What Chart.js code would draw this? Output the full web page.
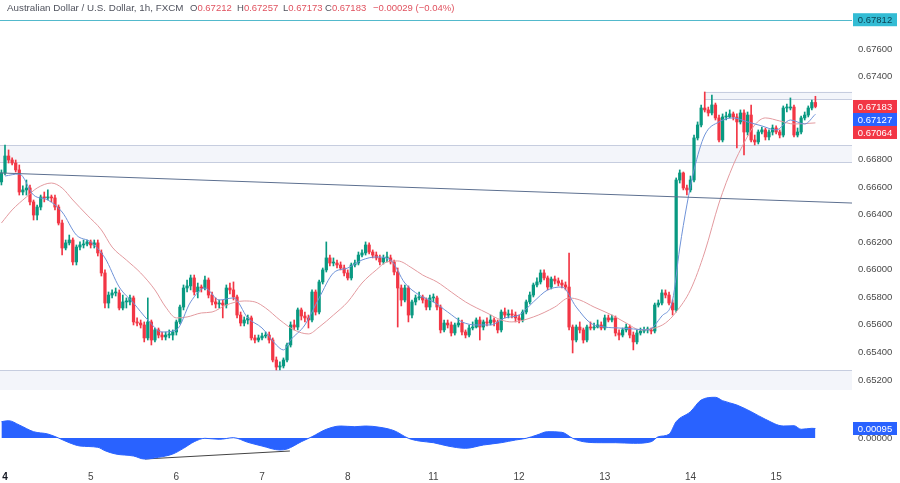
<!DOCTYPE html>
<html>
<head>
<meta charset="utf-8">
<script src="https://cdn.jsdelivr.net/npm/chart.js@4.4.1/dist/chart.umd.min.js"></script>
<style>
html, body { margin: 0; padding: 0; background: #fff; }
#wrap { position: relative; width: 900px; height: 483px; overflow: hidden; font-family: "Liberation Sans", Arial, sans-serif; }
.pane { position: absolute; left: 0; width: 900px; }
#title span { position: absolute; top: 2px; font-size: 9.5px; color: #50535e; white-space: nowrap; }
#title span.name { font-size: 9.8px; }
#title .v { position: static; color: #e0525f; }
</style>
</head>
<body>
<div id="wrap">
  <div class="pane" style="top:0;height:390px"><canvas id="priceChart"></canvas></div>
  <div class="pane" style="top:390px;height:93px"><canvas id="oscChart"></canvas></div>
  <div id="title">
    <span class="name" style="left:7px">Australian Dollar / U.S. Dollar, 1h, FXCM</span>
    <span style="left:190px">O<span class="v">0.67212</span></span>
    <span style="left:237px">H<span class="v">0.67257</span></span>
    <span style="left:283px">L<span class="v">0.67173</span></span>
    <span style="left:325px">C<span class="v">0.67183</span></span>
    <span style="left:373px"><span class="v">−0.00029 (−0.04%)</span></span>
  </div>
</div>
<script>
// hourly candles, index 0 = first hour of day "4"
const firstHour = -1;
const dayTicks = [0, 24, 48, 72, 96, 120, 144, 168, 192, 216];
const dayLabels = ['4', '5', '6', '7', '8', '11', '12', '13', '14', '15'];
const priceTicks = [0.652, 0.654, 0.656, 0.658, 0.660, 0.662, 0.664, 0.666, 0.668, 0.670, 0.672, 0.674, 0.676, 0.678];
const oscTicks = [0];

const opens = [0.66636,
  0.66701,0.66824,0.66795,0.66773,0.66723,0.66563,0.66578,0.66592,0.66491,0.66396,
  0.66454,0.66527,0.66520,0.66527,0.66520,0.66454,0.66338,0.66157,0.66194,0.66215,
  0.66056,0.66164,0.66179,0.66186,0.66201,0.66179,0.66194,0.66121,0.65976,0.65758,
  0.65816,0.65831,0.65831,0.65722,0.65766,0.65766,0.65795,0.65621,0.65613,0.65599,
  0.65505,0.65621,0.65490,0.65563,0.65526,0.65512,0.65526,0.65526,0.65548,0.65621,
  0.65729,0.65867,0.65882,0.65940,0.65838,0.65874,0.65867,0.65925,0.65816,0.65766,
  0.65751,0.65758,0.65744,0.65867,0.65853,0.65802,0.65671,0.65613,0.65635,0.65650,
  0.65505,0.65490,0.65505,0.65519,0.65526,0.65490,0.65345,0.65294,0.65302,0.65345,
  0.65454,0.65599,0.65584,0.65708,0.65664,0.65650,0.65635,0.65838,0.65693,0.65911,
  0.65998,0.66085,0.66048,0.66048,0.66034,0.66012,0.65976,0.65940,0.66034,0.66048,
  0.66106,0.66121,0.66179,0.66128,0.66106,0.66085,0.66056,0.66085,0.66085,0.66056,
  0.65983,0.65867,0.65780,0.65867,0.65671,0.65766,0.65795,0.65802,0.65780,0.65729,
  0.65795,0.65795,0.65729,0.65563,0.65613,0.65599,0.65541,0.65599,0.65613,0.65548,
  0.65526,0.65577,0.65584,0.65635,0.65584,0.65621,0.65613,0.65635,0.65621,0.65563,
  0.65693,0.65671,0.65679,0.65671,0.65650,0.65635,0.65693,0.65766,0.65816,0.65889,
  0.65911,0.65976,0.65940,0.65874,0.65932,0.65918,0.65903,0.65889,0.65874,0.65584,
  0.65490,0.65584,0.65563,0.65490,0.65584,0.65577,0.65584,0.65599,0.65577,0.65650,
  0.65635,0.65650,0.65541,0.65526,0.65563,0.65584,0.65526,0.65476,0.65541,0.65555,
  0.65563,0.65563,0.65555,0.65744,0.65758,0.65831,0.65816,0.65758,0.65708,0.66650,
  0.66701,0.66592,0.66578,0.66650,0.66955,0.67049,0.67172,0.67158,0.67136,0.67194,
  0.67100,0.66940,0.67107,0.67107,0.67129,0.67107,0.67071,0.67136,0.66998,0.67121,
  0.66940,0.66926,0.66998,0.67013,0.66962,0.66998,0.67027,0.66998,0.66976,0.67172,
  0.67172,0.67179,0.66976,0.66998,0.67100,0.67121,0.67172,0.67212];

const highs = [0.66723,
  0.66904,0.66868,0.66810,0.66795,0.66759,0.66607,0.66650,0.66614,0.66505,0.66469,
  0.66541,0.66563,0.66578,0.66541,0.66541,0.66469,0.66360,0.66215,0.66251,0.66230,
  0.66179,0.66201,0.66215,0.66215,0.66215,0.66215,0.66215,0.66143,0.65998,0.65838,
  0.65853,0.65867,0.65853,0.65816,0.65795,0.65816,0.65809,0.65650,0.65635,0.65621,
  0.65795,0.65635,0.65577,0.65577,0.65548,0.65548,0.65563,0.65563,0.65635,0.65744,
  0.65889,0.65925,0.65961,0.65961,0.65903,0.65889,0.65954,0.65940,0.65838,0.65795,
  0.65780,0.65780,0.65889,0.65903,0.65911,0.65816,0.65693,0.65657,0.65671,0.65664,
  0.65526,0.65526,0.65541,0.65548,0.65548,0.65505,0.65367,0.65331,0.65360,0.65468,
  0.65621,0.65635,0.65722,0.65722,0.65693,0.65671,0.65853,0.65853,0.65925,0.66012,
  0.66201,0.66106,0.66085,0.66070,0.66056,0.66034,0.65998,0.66048,0.66070,0.66128,
  0.66143,0.66201,0.66194,0.66143,0.66128,0.66106,0.66106,0.66128,0.66106,0.66070,
  0.66012,0.65889,0.65889,0.65882,0.65780,0.65816,0.65838,0.65816,0.65795,0.65816,
  0.65824,0.65809,0.65744,0.65635,0.65635,0.65621,0.65613,0.65650,0.65635,0.65563,
  0.65599,0.65621,0.65650,0.65657,0.65635,0.65650,0.65671,0.65650,0.65635,0.65708,
  0.65722,0.65708,0.65708,0.65693,0.65671,0.65708,0.65780,0.65838,0.65903,0.65940,
  0.65998,0.65998,0.65954,0.65947,0.65954,0.65940,0.65925,0.65911,0.66121,0.65599,
  0.65599,0.65621,0.65577,0.65599,0.65621,0.65613,0.65635,0.65621,0.65671,0.65671,
  0.65671,0.65664,0.65563,0.65577,0.65606,0.65599,0.65548,0.65563,0.65577,0.65584,
  0.65584,0.65577,0.65758,0.65780,0.65853,0.65853,0.65838,0.65780,0.66665,0.66723,
  0.66708,0.66614,0.66679,0.66976,0.67071,0.67194,0.67288,0.67179,0.67266,0.67208,
  0.67121,0.67129,0.67143,0.67158,0.67143,0.67129,0.67158,0.67158,0.67143,0.67194,
  0.66976,0.67013,0.67034,0.67027,0.67013,0.67049,0.67042,0.67013,0.67187,0.67201,
  0.67245,0.67194,0.67027,0.67114,0.67143,0.67187,0.67230,0.67257];

const lows = [0.66614,
  0.66686,0.66773,0.66759,0.66708,0.66541,0.66541,0.66541,0.66469,0.66360,0.66360,
  0.66433,0.66491,0.66505,0.66491,0.66433,0.66324,0.66106,0.66143,0.66179,0.66034,
  0.66034,0.66143,0.66157,0.66172,0.66157,0.66157,0.66099,0.65954,0.65722,0.65722,
  0.65795,0.65809,0.65708,0.65708,0.65722,0.65744,0.65599,0.65592,0.65577,0.65476,
  0.65490,0.65454,0.65476,0.65505,0.65490,0.65490,0.65505,0.65490,0.65526,0.65606,
  0.65708,0.65838,0.65853,0.65816,0.65795,0.65838,0.65853,0.65795,0.65744,0.65722,
  0.65722,0.65650,0.65722,0.65824,0.65780,0.65650,0.65592,0.65592,0.65606,0.65490,
  0.65468,0.65476,0.65490,0.65505,0.65468,0.65331,0.65273,0.65273,0.65287,0.65331,
  0.65439,0.65563,0.65563,0.65635,0.65621,0.65577,0.65621,0.65671,0.65679,0.65896,
  0.65983,0.66027,0.66027,0.66012,0.65998,0.65954,0.65925,0.65925,0.66019,0.66034,
  0.66092,0.66106,0.66114,0.66085,0.66070,0.66034,0.66041,0.66056,0.66041,0.65961,
  0.65584,0.65737,0.65766,0.65621,0.65650,0.65744,0.65780,0.65758,0.65708,0.65708,
  0.65766,0.65708,0.65541,0.65548,0.65577,0.65519,0.65526,0.65584,0.65526,0.65505,
  0.65512,0.65563,0.65577,0.65490,0.65563,0.65592,0.65599,0.65592,0.65541,0.65548,
  0.65650,0.65650,0.65650,0.65621,0.65613,0.65621,0.65679,0.65751,0.65802,0.65874,
  0.65896,0.65925,0.65853,0.65860,0.65896,0.65882,0.65867,0.65853,0.65563,0.65396,
  0.65476,0.65541,0.65468,0.65476,0.65563,0.65563,0.65577,0.65563,0.65563,0.65621,
  0.65621,0.65519,0.65490,0.65512,0.65548,0.65505,0.65418,0.65461,0.65526,0.65541,
  0.65541,0.65534,0.65541,0.65729,0.65744,0.65795,0.65744,0.65671,0.65693,0.66628,
  0.66578,0.66541,0.66563,0.66636,0.66940,0.67034,0.67143,0.67114,0.67121,0.67085,
  0.66926,0.66926,0.67085,0.67100,0.67085,0.66882,0.67056,0.66831,0.66976,0.66926,
  0.66904,0.66911,0.66984,0.66940,0.66940,0.66976,0.66984,0.66955,0.66962,0.67143,
  0.67158,0.66962,0.66962,0.66984,0.67085,0.67107,0.67158,0.67173];

const closes = [0.66701,
  0.66824,0.66795,0.66773,0.66723,0.66563,0.66578,0.66592,0.66491,0.66396,0.66454,
  0.66527,0.66520,0.66527,0.66520,0.66454,0.66338,0.66157,0.66194,0.66215,0.66056,
  0.66164,0.66179,0.66186,0.66201,0.66179,0.66194,0.66121,0.65976,0.65758,0.65816,
  0.65831,0.65831,0.65722,0.65766,0.65766,0.65795,0.65621,0.65613,0.65599,0.65505,
  0.65621,0.65490,0.65563,0.65526,0.65512,0.65526,0.65526,0.65548,0.65621,0.65729,
  0.65867,0.65882,0.65940,0.65838,0.65874,0.65867,0.65925,0.65816,0.65766,0.65751,
  0.65758,0.65744,0.65867,0.65853,0.65802,0.65671,0.65613,0.65635,0.65650,0.65505,
  0.65490,0.65505,0.65519,0.65526,0.65490,0.65345,0.65294,0.65302,0.65345,0.65454,
  0.65599,0.65584,0.65708,0.65664,0.65650,0.65635,0.65838,0.65693,0.65911,0.65998,
  0.66085,0.66048,0.66048,0.66034,0.66012,0.65976,0.65940,0.66034,0.66048,0.66106,
  0.66121,0.66179,0.66128,0.66106,0.66085,0.66056,0.66085,0.66085,0.66056,0.65983,
  0.65867,0.65780,0.65867,0.65671,0.65766,0.65795,0.65802,0.65780,0.65729,0.65795,
  0.65795,0.65729,0.65563,0.65613,0.65599,0.65541,0.65599,0.65613,0.65548,0.65526,
  0.65577,0.65584,0.65635,0.65584,0.65621,0.65613,0.65635,0.65621,0.65563,0.65693,
  0.65671,0.65679,0.65671,0.65650,0.65635,0.65693,0.65766,0.65816,0.65889,0.65911,
  0.65976,0.65940,0.65874,0.65932,0.65918,0.65903,0.65889,0.65874,0.65584,0.65490,
  0.65584,0.65563,0.65490,0.65584,0.65577,0.65584,0.65599,0.65577,0.65650,0.65635,
  0.65650,0.65541,0.65526,0.65563,0.65584,0.65526,0.65476,0.65541,0.65555,0.65563,
  0.65563,0.65555,0.65744,0.65758,0.65831,0.65816,0.65758,0.65708,0.66650,0.66701,
  0.66592,0.66578,0.66650,0.66955,0.67049,0.67172,0.67158,0.67136,0.67194,0.67100,
  0.66940,0.67107,0.67107,0.67129,0.67107,0.67071,0.67136,0.66998,0.67121,0.66940,
  0.66926,0.66998,0.67013,0.66962,0.66998,0.67027,0.66998,0.66976,0.67172,0.67172,
  0.67179,0.66976,0.66998,0.67100,0.67121,0.67172,0.67212,0.67183];

// fast (blue) and slow (red) moving averages, read at sample hours
const fastHours = [0,4,8,12,16,20,24,28,32,36,40,44,48,52,56,60,64,68,72,76,78,80,84,88,92,96,100,104,108,112,116,120,124,128,132,136,140,144,148,152,156,160,164,168,172,176,180,184,187,189,191,193,196,200,204,208,212,216,220,224,227];
const fastMA = [0.66679,0.66694,0.66541,0.66505,0.66418,0.66251,0.66201,0.66085,0.65874,0.65758,0.65635,0.65548,0.65563,0.65766,0.65867,0.65780,0.65795,0.65650,0.65577,0.65454,0.65418,0.65490,0.65599,0.65795,0.65976,0.66012,0.66070,0.66092,0.66070,0.65903,0.65816,0.65766,0.65693,0.65621,0.65599,0.65599,0.65650,0.65671,0.65766,0.65853,0.65874,0.65729,0.65613,0.65584,0.65577,0.65570,0.65563,0.65664,0.65780,0.66157,0.66469,0.66723,0.66976,0.67071,0.67100,0.67071,0.67042,0.67013,0.67085,0.67056,0.67127];
const slowHours = [-1,2,6,9,13,16,19,23,27,30,34,38,42,45,48,51,55,58,62,67,70,73,77,81,85,88,92,96,100,104,107,110,114,117,121,125,129,135,139,142,148,154,158,161,165,170,174,178,182,185,188,192,196,200,204,207,210,213,217,221,227];
const slowMA = [0.66338,0.66433,0.66527,0.66592,0.66628,0.66592,0.66505,0.66396,0.66288,0.66164,0.66070,0.65976,0.65853,0.65729,0.65650,0.65657,0.65686,0.65693,0.65744,0.65773,0.65766,0.65722,0.65635,0.65563,0.65534,0.65584,0.65671,0.65766,0.65903,0.65998,0.66056,0.66063,0.66012,0.65961,0.65911,0.65838,0.65766,0.65686,0.65635,0.65621,0.65657,0.65729,0.65795,0.65780,0.65729,0.65671,0.65613,0.65563,0.65577,0.65613,0.65693,0.65853,0.66128,0.66483,0.66759,0.66918,0.67049,0.67100,0.67078,0.67056,0.67064];

// lower oscillator
const oscHours = [-1,1,4,8,12,15,18,21,26,28,31,36,39,43,47,50,53,56,60,64,68,72,77,79,83,86,90,94,98,101,105,109,113,116,120,124,129,134,139,143,146,149,152,156,159,162,167,171,176,181,183,186,188,192,195,199,201,205,209,213,218,221,223,226,227];
const oscValues = [0.00163,0.00173,0.0013,0.00063,0.0004,0,-0.00047,-0.0008,-0.00093,-0.00127,-0.0016,-0.0018,-0.0021,-0.00193,-0.0016,-0.00103,-0.00037,-0.00003,-0.00013,0.00003,-0.00043,-0.0008,-0.0012,-0.0011,-0.00037,0.00013,0.00087,0.0012,0.00113,0.0012,0.00107,0.00073,-0.00003,-0.0003,-0.00047,-0.0008,-0.00103,-0.0007,-0.00047,-0.0002,-0.00003,0.0003,0.00063,0.00057,-0.00003,-0.00037,-0.00047,-0.00047,-0.00053,-0.00037,0.00013,0.00037,0.00163,0.00263,0.0038,0.00407,0.00373,0.0033,0.00263,0.00187,0.0012,0.00123,0.00087,0.00097,0.00095];
const oscTrend = [[39.2, -0.0021], [79.8, -0.0013]];

// drawn levels
const supportBand = [0.66904, 0.66781];
const topBand = [0.67290, 0.67235];
const topBandFrom = 196;
const floorLevel = 0.65273;
const highLevel = 0.67812;
const trendLine = [[-1.4, 0.66701], [237.25, 0.66483]];

const X_MIN = -1.4, X_MAX = 237.25;
const UP = '#089981', DOWN = '#f23645';
const FONT = '"Liberation Sans", Arial, sans-serif';

const hours = closes.map((c, k) => firstHour + k);
const candleColors = closes.map((c, k) => c >= opens[k] ? UP : DOWN);

// axis labels must not shrink the plot area
const noPad = s => { s.paddingTop = 0; s.paddingBottom = 0; s.paddingLeft = 0; s.paddingRight = 0; };

const levelsPlugin = {
  id: 'levels',
  beforeDatasetsDraw(chart) {
    const { ctx, chartArea: a, scales: { x, y } } = chart;
    ctx.save();
    ctx.beginPath(); ctx.rect(a.left, a.top, a.right - a.left, a.bottom - a.top); ctx.clip();
    const band = (x0, hi, lo) => {
      const y0 = y.getPixelForValue(hi), y1 = y.getPixelForValue(lo);
      ctx.fillStyle = '#f3f5fa';
      ctx.fillRect(x0, y0, a.right - x0, y1 - y0);
      ctx.strokeStyle = '#c6cddf'; ctx.lineWidth = 1;
      ctx.beginPath();
      ctx.moveTo(x0, Math.round(y0) + 0.5); ctx.lineTo(a.right, Math.round(y0) + 0.5);
      if (y1 < a.bottom - 1) { ctx.moveTo(x0, Math.round(y1) + 0.5); ctx.lineTo(a.right, Math.round(y1) + 0.5); }
      ctx.stroke();
    };
    band(a.left, supportBand[0], supportBand[1]);
    band(x.getPixelForValue(topBandFrom), topBand[0], topBand[1]);
    band(a.left, floorLevel, y.min);
    ctx.restore();
  },
  afterDatasetsDraw(chart) {
    const { ctx, chartArea: a, scales: { x, y } } = chart;
    ctx.save();
    ctx.lineWidth = 1;
    ctx.strokeStyle = '#52b9cc';
    const hy = Math.round(y.getPixelForValue(highLevel)) + 0.5;
    ctx.beginPath(); ctx.moveTo(a.left, hy); ctx.lineTo(a.right, hy); ctx.stroke();
    ctx.strokeStyle = '#5d7090';
    ctx.beginPath();
    ctx.moveTo(x.getPixelForValue(trendLine[0][0]), y.getPixelForValue(trendLine[0][1]));
    ctx.lineTo(x.getPixelForValue(trendLine[1][0]), y.getPixelForValue(trendLine[1][1]));
    ctx.stroke();
    ctx.restore();
  },
  afterDraw(chart) {
    const { ctx, chartArea: a, scales: { y } } = chart;
    const tags = [
      { v: closes[closes.length - 1], bg: DOWN, fg: '#fff' },
      { v: fastMA[fastMA.length - 1], bg: '#2962ff', fg: '#fff' },
      { v: slowMA[slowMA.length - 1], bg: DOWN, fg: '#fff' }
    ];
    ctx.save();
    ctx.font = '9.5px ' + FONT;
    ctx.textAlign = 'center'; ctx.textBaseline = 'middle';
    const draw = (cy, t) => {
      ctx.fillStyle = t.bg;
      ctx.fillRect(a.right + 1, cy - 6.5, 44, 13);
      ctx.fillStyle = t.fg;
      ctx.fillText(t.v.toFixed(5), a.right + 23, cy + 0.5);
    };
    draw(y.getPixelForValue(highLevel), { v: highLevel, bg: '#33bcd4', fg: '#0d4456' });
    let prev = -1e9;
    tags.forEach(t => {
      const cy = Math.max(y.getPixelForValue(t.v), prev + 13);
      draw(cy, t);
      prev = cy;
    });
    ctx.restore();
  }
};

new Chart(document.getElementById('priceChart'), {
  type: 'bar',
  data: {
    datasets: [
      { type: 'line', data: fastHours.map((h, k) => ({ x: h, y: fastMA[k] })), borderColor: '#6f93d8', borderWidth: 1, pointRadius: 0, cubicInterpolationMode: 'monotone', order: 0 },
      { type: 'line', data: slowHours.map((h, k) => ({ x: h, y: slowMA[k] })), borderColor: '#e39a9f', borderWidth: 1, pointRadius: 0, cubicInterpolationMode: 'monotone', order: 0 },
      { data: hours.map((h, k) => ({ x: h, y: [opens[k], closes[k]] })), backgroundColor: candleColors, barThickness: 2.6, minBarLength: 1, grouped: false, order: 1 },
      { data: hours.map((h, k) => ({ x: h, y: [lows[k], highs[k]] })), backgroundColor: candleColors, barThickness: 1, grouped: false, order: 2 }
    ]
  },
  options: {
    animation: false,
    responsive: true,
    maintainAspectRatio: false,
    layout: { padding: 0, autoPadding: false },
    plugins: { legend: { display: false }, tooltip: { enabled: false } },
    scales: {
      x: { type: 'linear', min: X_MIN, max: X_MAX, offset: false, display: false },
      y: {
        position: 'right', min: 0.651275, max: 0.67955,
        grid: { display: false, drawTicks: false }, border: { display: false },
        afterFit: s => { s.width = 48; noPad(s); },
        afterBuildTicks: s => { s.ticks = priceTicks.map(v => ({ value: v })); },
        ticks: { padding: 6, color: '#4a4a4a', font: { size: 9.5, family: FONT }, callback: v => v.toFixed(5) }
      }
    }
  },
  plugins: [levelsPlugin]
});

const oscTagPlugin = {
  id: 'oscTag',
  afterDraw(chart) {
    const { ctx, chartArea: a, scales: { y } } = chart;
    const v = oscValues[oscValues.length - 1];
    const cy = y.getPixelForValue(v);
    ctx.save();
    ctx.fillStyle = '#2962ff';
    ctx.fillRect(a.right + 1, cy - 6.5, 44, 13);
    ctx.fillStyle = '#fff';
    ctx.font = '9.5px ' + FONT;
    ctx.textAlign = 'center'; ctx.textBaseline = 'middle';
    ctx.fillText(v.toFixed(5), a.right + 23, cy + 0.5);
    ctx.restore();
  }
};

new Chart(document.getElementById('oscChart'), {
  type: 'line',
  data: {
    datasets: [
      { data: oscHours.map((h, k) => ({ x: h, y: oscValues[k] })), borderColor: '#2962ff', backgroundColor: '#2962ff', fill: 'origin', borderWidth: 1, pointRadius: 0, cubicInterpolationMode: 'monotone' },
      { data: oscTrend.map(p => ({ x: p[0], y: p[1] })), borderColor: '#444', borderWidth: 1, pointRadius: 0, fill: false }
    ]
  },
  options: {
    animation: false,
    responsive: true,
    maintainAspectRatio: false,
    layout: { padding: 0, autoPadding: false },
    plugins: { legend: { display: false }, tooltip: { enabled: false } },
    scales: {
      x: {
        type: 'linear', min: X_MIN, max: X_MAX,
        grid: { display: false, drawTicks: false }, border: { display: false },
        afterFit: s => { s.height = 21; noPad(s); },
        afterBuildTicks: s => { s.ticks = dayTicks.map(v => ({ value: v })); },
        ticks: {
          autoSkip: false, maxRotation: 0, padding: 9,
          color: c => c.index === 0 ? '#131722' : '#444',
          font: c => ({ size: 10, family: FONT, weight: c.index === 0 ? 'bold' : 'normal' }),
          callback: (v, k) => dayLabels[k]
        }
      },
      y: {
        position: 'right', min: -0.0024, max: 0.0048,
        grid: { display: false, drawTicks: false }, border: { display: false },
        afterFit: s => { s.width = 48; noPad(s); },
        afterBuildTicks: s => { s.ticks = oscTicks.map(v => ({ value: v })); },
        ticks: { padding: 6, color: '#4a4a4a', font: { size: 9.5, family: FONT }, callback: v => v.toFixed(5) }
      }
    }
  },
  plugins: [oscTagPlugin]
});
</script>
</body>
</html>
